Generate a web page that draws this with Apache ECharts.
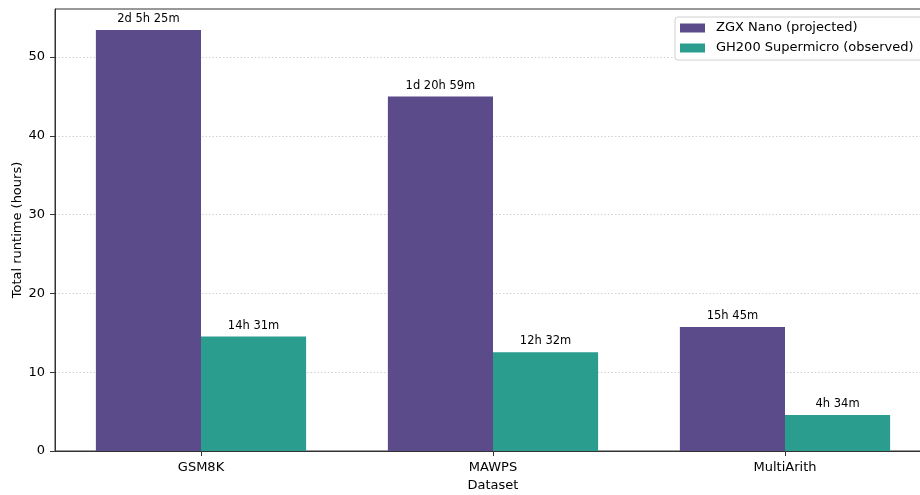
<!DOCTYPE html>
<html>
<head>
<meta charset="utf-8">
<script src="https://cdn.jsdelivr.net/npm/echarts@6/dist/echarts.min.js"></script>
<style>
html,body{margin:0;padding:0;background:#fff;}
#c{width:920px;height:495px;}
</style>
</head>
<body>
<div id="c"></div>
<script>
// Data
const categories = ['GSM8K', 'MAWPS', 'MultiArith'];
const seriesNames = ['ZGX Nano (projected)', 'GH200 Supermicro (observed)'];
const zgxHours = [53.4167, 44.9833, 15.75];
const gh200Hours = [14.5167, 12.5333, 4.5667];
const zgxLabels = ['2d 5h 25m', '1d 20h 59m', '15h 45m'];
const gh200Labels = ['14h 31m', '12h 32m', '4h 34m'];
const yTicks = [0, 10, 20, 30, 40, 50];

const FONT = 'DejaVu Sans';
const chart = echarts.init(document.getElementById('c'), null, {renderer: 'canvas'});

function mkSeries(name, vals, labels, color) {
  return {
    name: name,
    type: 'bar',
    data: vals,
    barWidth: '36%',
    barGap: '0%',
    itemStyle: {color: color},
    label: {
      show: true,
      position: 'top',
      distance: 5,
      fontFamily: FONT,
      fontSize: 11.5,
      color: '#000',
      formatter: function (p) { return labels[p.dataIndex]; }
    },
    emphasis: {disabled: true}
  };
}

chart.setOption({
  animation: false,
  backgroundColor: '#fff',
  textStyle: {fontFamily: FONT},
  grid: {
    left: 55, top: 9, width: 876, bottom: 44,
    outerBoundsMode: 'none',
    containLabel: false,
    show: true, borderColor: '#333', borderWidth: 1, backgroundColor: 'transparent'
  },
  legend: {
    orient: 'vertical',
    left: 675, top: 17,
    padding: [4, 12, 5, 5],
    itemWidth: 25, itemHeight: 9, itemGap: 6,
    icon: 'rect',
    borderColor: '#d0d0d0', borderWidth: 1, borderRadius: 3,
    backgroundColor: 'rgba(255,255,255,0.8)',
    textStyle: {fontFamily: FONT, fontSize: 13, color: '#000', lineHeight: 14, padding: [0, 0, 0, 6]},
    data: seriesNames
  },
  xAxis: {
    type: 'category',
    data: categories,
    name: 'Dataset',
    nameLocation: 'middle',
    nameGap: 28,
    nameMoveOverlap: false,
    nameTextStyle: {fontFamily: FONT, fontSize: 13, color: '#000'},
    axisLine: {lineStyle: {color: '#333', width: 1}},
    axisTick: {show: true, alignWithLabel: true, length: 5, lineStyle: {color: '#333'}},
    axisLabel: {fontFamily: FONT, fontSize: 13, color: '#000', margin: 10},
    splitLine: {show: false}
  },
  yAxis: {
    type: 'value',
    min: 0, max: 56.09, interval: 10,
    name: 'Total runtime (hours)',
    nameLocation: 'middle',
    nameGap: 31,
    nameMoveOverlap: false,
    nameTextStyle: {fontFamily: FONT, fontSize: 13, color: '#000'},
    axisLine: {show: true, lineStyle: {color: '#333', width: 1}},
    axisTick: {show: true, length: 5, lineStyle: {color: '#333'}, customValues: yTicks},
    axisLabel: {fontFamily: FONT, fontSize: 13, color: '#000', margin: 10, customValues: yTicks},
    splitLine: {show: true, lineStyle: {color: '#c4c4c4', type: [1.5, 2], width: 0.8}}
  },
  series: [
    mkSeries(seriesNames[0], zgxHours, zgxLabels, '#5b4b8a'),
    mkSeries(seriesNames[1], gh200Hours, gh200Labels, '#2a9d8f')
  ]
});
</script>
</body>
</html>
